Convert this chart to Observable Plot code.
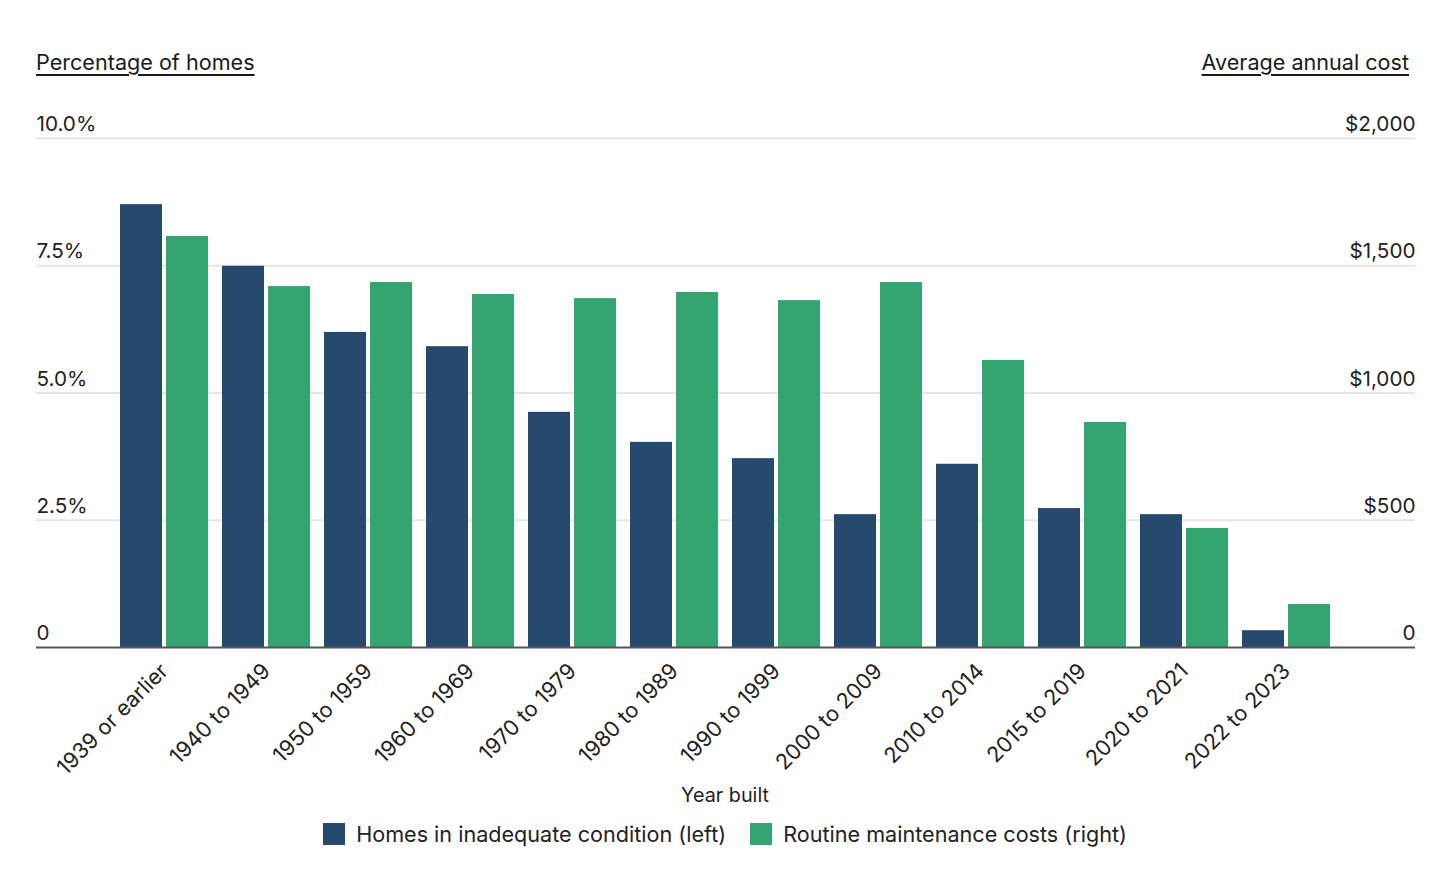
<!DOCTYPE html>
<html>
<head>
<meta charset="utf-8">
<script src="https://cdn.jsdelivr.net/npm/d3@7"></script>
<script src="https://cdn.jsdelivr.net/npm/@observablehq/plot@0.6"></script>
<style>
  body { margin: 0; background: #fff; font-family: Inter, "Noto Sans", sans-serif; }
  #wrap { position: relative; width: 1450px; height: 875px; overflow: hidden; }
  #chart { position: absolute; left: 0; top: 0; }
  .atitle { position: absolute; top: 48px; font-size: 21.6px; line-height: 28px; color: #1a1a1a;
            text-decoration: underline; text-underline-offset: 4px; text-decoration-thickness: 1.5px; }
  #xtitle { position: absolute; top: 782px; left: 0; width: 1450px; text-align: center;
            font-size: 19.8px; line-height: 26px; color: #222; }
  #legend { position: absolute; top: 820px; left: 0; width: 1450px; display: flex; justify-content: center;
            align-items: center; font-size: 21.6px; line-height: 28px; color: #222; }
  .item { display: flex; align-items: center; margin: 0 12px; }
  .sw { width: 22px; height: 22px; margin-right: 11px; }
</style>
</head>
<body>
<div id="wrap">
  <div id="chart"></div>
  <div class="atitle" style="left:36px;">Percentage of homes</div>
  <div class="atitle" style="right:41px;">Average annual cost</div>
  <div id="xtitle">Year built</div>
  <div id="legend"></div>
</div>
<script>
const years = ["1939 or earlier", "1940 to 1949", "1950 to 1959", "1960 to 1969", "1970 to 1979",
  "1980 to 1989", "1990 to 1999", "2000 to 2009", "2010 to 2014", "2015 to 2019", "2020 to 2021", "2022 to 2023"];
const inadequatePct = [8.70, 7.49, 6.19, 5.91, 4.62, 4.03, 3.71, 2.61, 3.60, 2.73, 2.61, 0.33];
const maintenanceCost = [1615, 1418, 1434, 1387, 1371, 1395, 1363, 1434, 1128, 884, 468, 169];
const leftTicks = [0, 2.5, 5, 7.5, 10];
const leftLabels = ["0", "2.5%", "5.0%", "7.5%", "10.0%"];
const rightTicks = [0, 500, 1000, 1500, 2000];
const rightLabels = ["0", "$500", "$1,000", "$1,500", "$2,000"];
const seriesNames = ["Homes in inadequate condition (left)", "Routine maintenance costs (right)"];
const colors = ["#254a6e", "#34a471"];
const costPerPct = 200; // right axis $2,000 aligns with left 10%

const rows = years.map((y, i) => ({year: y, pct: inadequatePct[i], cost: maintenanceCost[i]}));

const chart = Plot.plot({
  width: 1450,
  height: 812,
  marginTop: 138,
  marginBottom: 165,
  marginLeft: 36,
  marginRight: 35,
  style: {fontFamily: "Inter, 'Noto Sans', sans-serif", fontSize: "20.7px", color: "#222", background: "transparent"},
  x: {domain: years, range: [120, 1330], paddingInner: 0.137, paddingOuter: 0, round: false, label: null},
  y: {domain: [0, 10], axis: null},
  marks: [
    Plot.ruleY(leftTicks.filter(d => d > 0), {stroke: "#e5e5e5", strokeWidth: 2}),
    Plot.barY(rows, {x: "year", y: "pct", fill: colors[0], insetRight: 46}),
    Plot.barY(rows, {x: "year", y: d => d.cost / costPerPct, fill: colors[1], insetLeft: 46}),
    Plot.ruleY([0], {stroke: "#555", strokeWidth: 2}),
    Plot.text(leftTicks, {y: d => d, text: leftLabels, frameAnchor: "left", textAnchor: "start", dy: -14, fill: "#222"}),
    Plot.text(rightTicks, {y: d => d / costPerPct, text: rightLabels, frameAnchor: "right", textAnchor: "end", dy: -14, fill: "#222"}),
    Plot.axisX({tickSize: 0, tickRotate: -45, tickPadding: 20, label: null, fill: "#222", fontSize: 21.6})
  ]
});
document.getElementById("chart").appendChild(chart);

const legend = document.getElementById("legend");
seriesNames.forEach((name, i) => {
  const it = document.createElement("div");
  it.className = "item";
  const sw = document.createElement("div");
  sw.className = "sw";
  sw.style.background = colors[i];
  const t = document.createElement("span");
  t.textContent = name;
  it.appendChild(sw);
  it.appendChild(t);
  legend.appendChild(it);
});
</script>
</body>
</html>
